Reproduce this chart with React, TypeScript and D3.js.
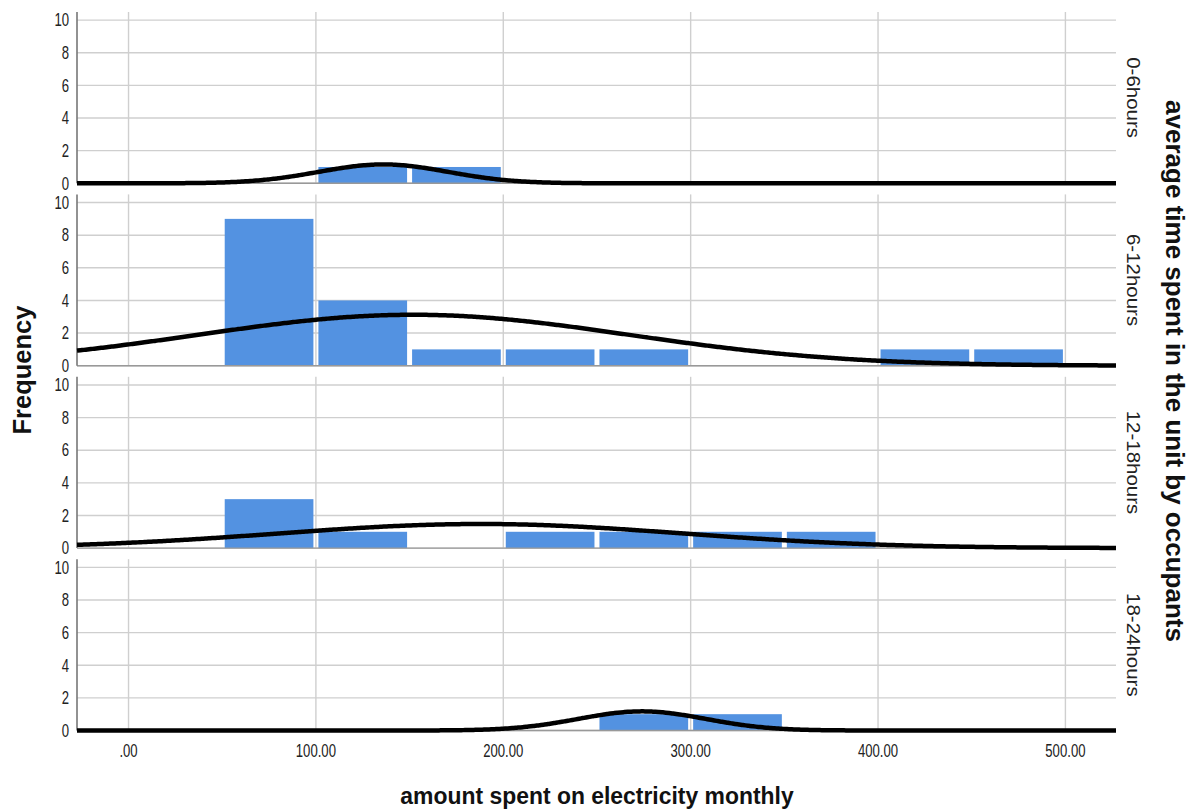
import React from "react";
import * as d3 from "d3";

// Panels: average time spent in the unit by occupants
const groups = ["0-6hours", "6-12hours", "12-18hours", "18-24hours"];

// Histogram bin starts (bins are 50 wide) and counts per panel
const binStarts = [0, 50, 100, 150, 200, 250, 300, 350, 400, 450];
const countsG1 = [0, 0, 1, 1, 0, 0, 0, 0, 0, 0];
const countsG2 = [0, 9, 4, 1, 1, 1, 0, 0, 1, 1];
const countsG3 = [0, 3, 1, 0, 1, 1, 1, 1, 0, 0];
const countsG4 = [0, 0, 0, 0, 0, 1, 1, 0, 0, 0];
const counts = [countsG1, countsG2, countsG3, countsG4];

// Fitted normal curve parameters per panel
const means = [136, 152, 188, 274];
const sds = [34.5, 115, 108, 34];
const ns = [2, 18, 8, 2];
const binWidth = 50;

const xTicks = [0, 100, 200, 300, 400, 500];
const xTickLabels = [".00", "100.00", "200.00", "300.00", "400.00", "500.00"];
const yTicks = [0, 2, 4, 6, 8, 10];

const W = 1192;
const H = 809;
const left = 77;
const right = 1116;
const top0 = 12;
const panelH = 171.3;
const panelStep = 182.4;

const x = d3.scaleLinear().domain([-27.5, 527]).range([left, right]);

const fontFam = "'Liberation Sans', Arial, sans-serif";

function normalCurve(mean: number, sd: number, n: number) {
  const [d0, d1] = x.domain();
  const pts: [number, number][] = [];
  const steps = 300;
  for (let i = 0; i <= steps; i++) {
    const v = d0 + ((d1 - d0) * i) / steps;
    const z = (v - mean) / sd;
    const dens = (n * binWidth * Math.exp(-0.5 * z * z)) / (sd * Math.sqrt(2 * Math.PI));
    pts.push([v, dens]);
  }
  return pts;
}

function Panel({ idx }: { idx: number }) {
  const top = top0 + idx * panelStep;
  const bottom = top + panelH;
  const y = d3.scaleLinear().domain([0, 10.5]).range([bottom, top]);
  const line = d3
    .line<[number, number]>()
    .x((d) => x(d[0]))
    .y((d) => y(d[1]))
    .curve(d3.curveBasis);
  const pts = normalCurve(means[idx], sds[idx], ns[idx]);
  return (
    <g>
      {/* horizontal gridlines */}
      {yTicks.map((t) => (
        <line key={"h" + t} x1={left} x2={right} y1={y(t)} y2={y(t)} stroke="#cfcfcf" strokeWidth={1.4} />
      ))}
      {/* vertical gridlines */}
      {xTicks.map((t) => (
        <line key={"v" + t} x1={x(t)} x2={x(t)} y1={top} y2={bottom} stroke="#cfcfcf" strokeWidth={1.4} />
      ))}
      {/* bars */}
      {counts[idx].map((c, i) =>
        c > 0 ? (
          <rect
            key={"b" + i}
            x={x(binStarts[i]) + 2.5}
            width={x(binStarts[i] + binWidth) - x(binStarts[i]) - 5}
            y={y(c)}
            height={y(0) - y(c)}
            fill="#5392e1"
          />
        ) : null
      )}
      {/* baseline and left axis */}
      <line x1={left} x2={right} y1={y(0)} y2={y(0)} stroke="#999" strokeWidth={1.4} />
      <line x1={left} x2={left} y1={top} y2={bottom} stroke="#777" strokeWidth={1.6} />
      {/* normal curve */}
      <path d={line(pts) || ""} fill="none" stroke="#000" strokeWidth={4.5} strokeLinecap="butt" />
      {/* y tick labels */}
      {yTicks.map((t) => (
        <text
          key={"yl" + t}
          transform={`translate(69,${y(t)}) scale(0.73,1)`}
          textAnchor="end"
          dominantBaseline="central"
          fontFamily={fontFam}
          fontSize={18}
          fill="#222"
        >
          {t}
        </text>
      ))}
      {/* panel label */}
      <text
        transform={`translate(1133,${(top + bottom) / 2}) scale(0.88,1) rotate(90)`}
        textAnchor="middle"
        dominantBaseline="central"
        fontFamily={fontFam}
        fontSize={20.5}
        fill="#222"
      >
        {groups[idx]}
      </text>
    </g>
  );
}

export default function App() {
  return (
    <svg
      width={W}
      height={H}
      style={{ position: "absolute", left: 0, top: 0, background: "#fff" }}
    >
      <rect width={W} height={H} fill="#fff" />
      {groups.map((g, i) => (
        <Panel key={g} idx={i} />
      ))}
      {/* x tick labels */}
      {xTicks.map((t, i) => (
        <text
          key={"xl" + t}
          transform={`translate(${x(t)},751) scale(0.73,1)`}
          textAnchor="middle"
          dominantBaseline="central"
          fontFamily={fontFam}
          fontSize={18}
          fill="#222"
        >
          {xTickLabels[i]}
        </text>
      ))}
      {/* axis titles */}
      <text
        transform="translate(597,804) scale(0.955,1)"
        textAnchor="middle"
        fontFamily={fontFam}
        fontWeight="bold"
        fontSize={24}
        fill="#111"
      >
        amount spent on electricity monthly
      </text>
      <text
        transform="translate(22,370) rotate(-90)"
        textAnchor="middle"
        dominantBaseline="central"
        fontFamily={fontFam}
        fontWeight="bold"
        fontSize={25.5}
        fill="#111"
      >
        Frequency
      </text>
      <text
        transform="translate(1175,371) rotate(90)"
        textAnchor="middle"
        dominantBaseline="central"
        fontFamily={fontFam}
        fontWeight="bold"
        fontSize={26}
        fill="#111"
      >
        average time spent in the unit by occupants
      </text>
    </svg>
  );
}
